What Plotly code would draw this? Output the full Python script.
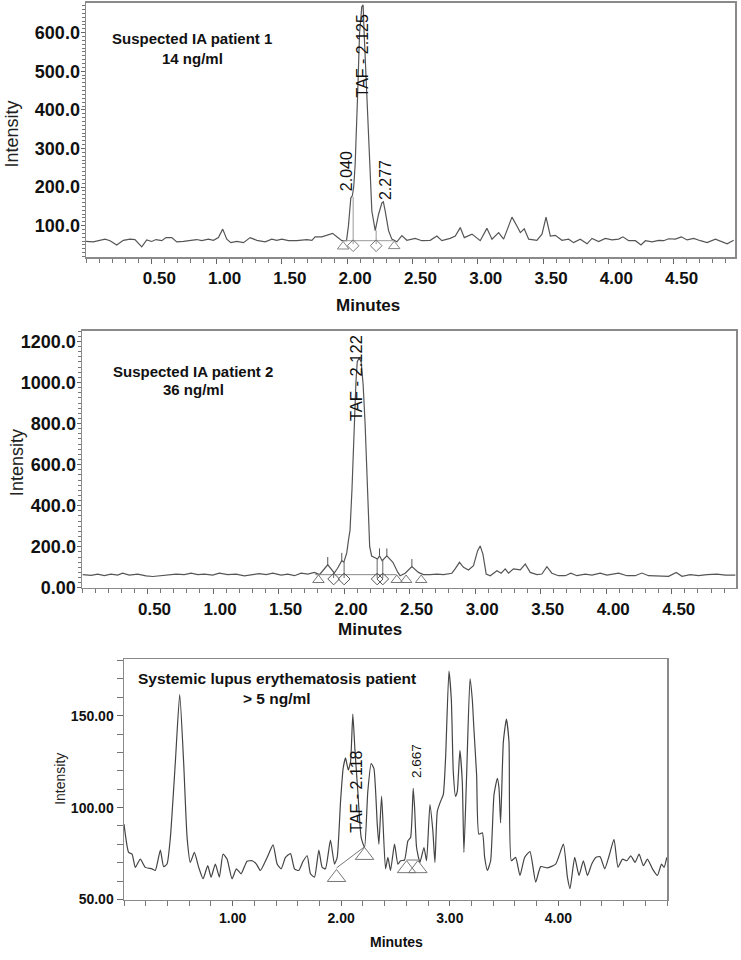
import plotly.graph_objects as go

W, H = 741, 960

# ---------------- data: panel 1 (Suspected IA patient 1) ----------------
p1_time = [0.0, 0.056, 0.146, 0.184, 0.235, 0.286, 0.337, 0.375, 0.427, 0.465,
           0.503, 0.536, 0.580, 0.613, 0.657, 0.695, 0.746, 0.797, 0.848, 0.887,
           0.937, 0.976, 1.014, 1.047, 1.078, 1.109, 1.155, 1.206, 1.257, 1.308,
           1.372, 1.423, 1.461, 1.500, 1.550, 1.614, 1.691, 1.730, 1.755, 1.806,
           1.849, 1.888, 1.921, 1.959, 1.995, 2.010, 2.028, 2.040, 2.050, 2.061,
           2.079, 2.095, 2.112, 2.122, 2.130, 2.151, 2.171, 2.189, 2.215, 2.240,
           2.266, 2.277, 2.291, 2.317, 2.342, 2.381, 2.419, 2.457, 2.521, 2.572,
           2.636, 2.687, 2.725, 2.789, 2.828, 2.866, 2.897, 2.956, 3.019, 3.070,
           3.109, 3.160, 3.198, 3.262, 3.300, 3.326, 3.356, 3.390, 3.453, 3.492,
           3.523, 3.556, 3.594, 3.645, 3.696, 3.734, 3.785, 3.837, 3.875, 3.926,
           3.977, 4.028, 4.079, 4.112, 4.156, 4.207, 4.250, 4.284, 4.335, 4.386,
           4.424, 4.462, 4.513, 4.559, 4.603, 4.654, 4.705, 4.756, 4.820, 4.871,
           4.910, 4.960]
p1_int = [59, 58, 65, 61, 50, 62, 65, 64, 45, 63,
          59, 64, 61, 69, 69, 58, 59, 61, 64, 61,
          65, 62, 69, 91, 65, 56, 59, 56, 69, 62,
          58, 65, 62, 65, 61, 61, 64, 62, 71, 71,
          76, 80, 71, 61, 61, 100, 172, 178, 200, 257,
          428, 599, 667, 672, 599, 428, 257, 138, 87, 129,
          159, 162, 138, 87, 65, 58, 74, 62, 67, 61,
          62, 73, 61, 67, 73, 95, 69, 78, 61, 93,
          65, 82, 65, 122, 99, 82, 92, 65, 62, 78,
          122, 73, 75, 62, 65, 56, 65, 53, 67, 59,
          67, 63, 65, 71, 61, 61, 50, 61, 58, 62,
          61, 66, 65, 71, 63, 67, 61, 56, 65, 59,
          53, 62]
p1_tri_time = [1.969, 2.360]
p1_tri_int = [46, 47]
p1_dia_time = [2.046, 2.222]
p1_dia_int = [48, 48]
p1_base_time = [1.969, 2.360]
p1_base_int = [61, 61]
p1_drop_time = [2.046, 2.222]
p1_drop_top = [175, 88]
p1_drop_bottom = [52, 52]

# ---------------- data: panel 2 (Suspected IA patient 2) ----------------
p2_time = [0.005, 0.069, 0.12, 0.17, 0.221, 0.272, 0.31, 0.361, 0.425, 0.489,
           0.54, 0.603, 0.654, 0.718, 0.781, 0.832, 0.883, 0.934, 0.997, 1.048,
           1.112, 1.176, 1.239, 1.29, 1.353, 1.405, 1.456, 1.519, 1.57, 1.621,
           1.672, 1.723, 1.773, 1.812, 1.845, 1.875, 1.905, 1.925, 1.95, 1.982,
           1.998, 2.02, 2.035, 2.045, 2.06, 2.075, 2.09, 2.10, 2.115, 2.13,
           2.145, 2.16, 2.172, 2.185, 2.195, 2.21, 2.235, 2.255, 2.27, 2.29,
           2.326, 2.372, 2.41, 2.427, 2.466, 2.517, 2.567, 2.605, 2.656, 2.708,
           2.758, 2.822, 2.847, 2.88, 2.911, 2.949, 2.987, 3.018, 3.038, 3.059,
           3.084, 3.115, 3.166, 3.198, 3.229, 3.254, 3.292, 3.344, 3.382, 3.42,
           3.471, 3.509, 3.547, 3.585, 3.636, 3.687, 3.73, 3.776, 3.84, 3.891,
           3.954, 4.005, 4.094, 4.158, 4.221, 4.272, 4.323, 4.387, 4.476, 4.534,
           4.578, 4.641, 4.705, 4.769, 4.845, 4.908, 4.985]
p2_int = [64, 61, 67, 59, 67, 62, 71, 62, 67, 58,
          55, 59, 62, 67, 64, 71, 64, 67, 62, 71,
          64, 67, 58, 62, 69, 64, 71, 62, 67, 59,
          71, 67, 75, 64, 88, 112, 88, 72, 95, 132,
          125, 170, 240, 280, 480, 760, 1000, 1100, 1120, 1100,
          990, 800, 560, 330, 200, 155, 145, 140, 156, 132,
          156, 124, 75, 59, 71, 103, 75, 64, 64, 67,
          64, 71, 92, 124, 100, 87, 108, 180, 204, 164,
          67, 59, 83, 71, 92, 71, 92, 87, 116, 75,
          64, 67, 103, 71, 59, 59, 71, 59, 67, 62,
          71, 62, 71, 59, 59, 72, 59, 58, 56, 75,
          56, 64, 59, 64, 67, 62, 62]
p2_tri_time = [1.804, 2.402, 2.473, 2.588]
p2_tri_int = [38, 38, 38, 38]
p2_dia_time = [1.920, 2.000, 2.252, 2.295]
p2_dia_int = [43, 43, 43, 43]
p2_base_time = [1.780, 2.400]
p2_base_int = [64, 64]
p2_drop_time = [1.920, 2.000, 2.252, 2.295]
p2_drop_top = [82, 125, 142, 136]
p2_drop_bottom = [48, 48, 48, 48]
p2_apex_time = [1.875, 1.982, 2.270, 2.326, 2.517]
p2_apex_low = [112, 132, 156, 156, 103]
p2_apex_high = [150, 170, 192, 192, 140]

# ---------------- data: panel 3 (SLE patient) ----------------
p3_time = [0.0, 0.043, 0.074, 0.104, 0.15, 0.196, 0.258, 0.288, 0.335, 0.365,
           0.396, 0.427, 0.473, 0.513, 0.549, 0.581, 0.611, 0.648, 0.688, 0.728,
           0.771, 0.802, 0.841, 0.878, 0.912, 0.949, 0.995, 1.035, 1.078, 1.133,
           1.18, 1.219, 1.256, 1.318, 1.373, 1.41, 1.447, 1.487, 1.533, 1.57,
           1.609, 1.649, 1.687, 1.717, 1.754, 1.794, 1.825, 1.855, 1.901, 1.938,
           1.963, 1.994, 2.018, 2.04, 2.065, 2.086, 2.107, 2.126, 2.153, 2.184,
           2.215, 2.245, 2.276, 2.301, 2.332, 2.347, 2.372, 2.408, 2.43, 2.454,
           2.491, 2.522, 2.547, 2.583, 2.614, 2.639, 2.663, 2.676, 2.694, 2.725,
           2.762, 2.786, 2.817, 2.844, 2.863, 2.885, 2.915, 2.94, 2.961, 2.992,
           3.014, 3.032, 3.053, 3.069, 3.093, 3.115, 3.13, 3.155, 3.186, 3.207,
           3.222, 3.247, 3.268, 3.3, 3.321, 3.346, 3.376, 3.407, 3.438, 3.453,
           3.468, 3.493, 3.521, 3.545, 3.567, 3.606, 3.646, 3.689, 3.738, 3.791,
           3.837, 3.899, 3.975, 4.046, 4.083, 4.107, 4.15, 4.19, 4.23, 4.267,
           4.307, 4.344, 4.384, 4.427, 4.467, 4.512, 4.549, 4.59, 4.63, 4.666,
           4.706, 4.743, 4.783, 4.82, 4.866, 4.912, 4.949, 4.973, 4.998]
p3_int = [91, 75.6, 74.7, 67.5, 72, 67.5, 66.7, 65.8, 76.9, 67.9,
          69.3, 83.7, 124.9, 161.6, 124.9, 83.7, 70.2, 75.6, 67.5, 61.3,
          68.4, 62.2, 69.3, 62.2, 74.7, 72, 61.3, 66.7, 64, 70.8,
          71.1, 69.3, 65.8, 72.9, 79.7, 69.3, 66.7, 72.9, 75, 66.7,
          65.8, 70.8, 73.8, 64, 62.2, 76.9, 67.5, 66.7, 82.3, 69.3,
          72.9, 103.4, 121.3, 127, 120.4, 124.9, 150.9, 132, 108.8, 83.7,
          78.3, 108.8, 124, 121.3, 90.9, 80.1, 106.2, 66.7, 72.9, 65.8,
          80.1, 69.3, 71.1, 71.5, 81.9, 83.7, 110.5, 99.8, 78.3, 70.2,
          78.3, 71.1, 101.6, 87.3, 70.2, 98, 103.4, 107, 126.7, 174.2,
          158.9, 119.5, 106.1, 108.8, 131.2, 114.1, 75.6, 117.7, 170, 158.9,
          142.8, 117.7, 85.5, 86.3, 72.9, 65.8, 71.1, 107, 115.9, 110.5,
          91.7, 135.7, 148.2, 135.7, 71.1, 72.9, 63.1, 72.9, 76.1, 59.5,
          67.9, 67.2, 69.3, 80.1, 62.2, 55.9, 72.9, 63.1, 71.1, 63.1,
          69.3, 72.9, 73.3, 66.7, 73.8, 82.8, 67.5, 72, 71.1, 73.8,
          70.2, 74.7, 68.4, 72, 66.7, 63.1, 69.3, 67.5, 72.9]
p3_tri_time = [1.957, 2.215, 2.602, 2.706]
p3_tri_int = [62, 74, 66.8, 66.8]
p3_base_time = [1.957, 2.215, None, 2.602, 2.706]
p3_base_int = [67.2, 78.7, None, 71.5, 71.5]

# ---------------- tick labels ----------------
x12_vals = [0.5, 1.0, 1.5, 2.0, 2.5, 3.0, 3.5, 4.0, 4.5]
x12_text = ["0.50", "1.00", "1.50", "2.00", "2.50", "3.00", "3.50", "4.00", "4.50"]
y1_vals = [100, 200, 300, 400, 500, 600]
y1_text = ["100.0", "200.0", "300.0", "400.0", "500.0", "600.0"]
y2_vals = [0, 200, 400, 600, 800, 1000, 1200]
y2_text = ["0.00", "200.0", "400.0", "600.0", "800.0", "1000.0", "1200.0"]
x3_vals = [1, 2, 3, 4]
x3_text = ["1.00", "2.00", "3.00", "4.00"]
y3_vals = [50, 100, 150]
y3_text = ["50.00", "100.00", "150.00"]


def segs(xs, lo, hi):
    X, Y = [], []
    for x, a, b in zip(xs, lo, hi):
        X += [x, x, None]
        Y += [a, b, None]
    return X, Y


FONT = "Liberation Sans, Arial, sans-serif"
fig = go.Figure()

# panel 1
fig.add_trace(go.Scatter(x=p1_time, y=p1_int, mode="lines", xaxis="x", yaxis="y",
                         line=dict(color="#555555", width=1.2)))
fig.add_trace(go.Scatter(x=p1_base_time, y=p1_base_int, mode="lines", xaxis="x", yaxis="y",
                         line=dict(color="#999999", width=1)))
dx, dy = segs(p1_drop_time, p1_drop_bottom, p1_drop_top)
fig.add_trace(go.Scatter(x=dx, y=dy, mode="lines", xaxis="x", yaxis="y",
                         line=dict(color="#999999", width=1)))
fig.add_trace(go.Scatter(x=p1_tri_time, y=p1_tri_int, mode="markers", xaxis="x", yaxis="y",
                         marker=dict(symbol="triangle-up-open", size=10, color="#888888",
                                     line=dict(width=1))))
fig.add_trace(go.Scatter(x=p1_dia_time, y=p1_dia_int, mode="markers", xaxis="x", yaxis="y",
                         marker=dict(symbol="diamond-open", size=9, color="#777777",
                                     line=dict(width=1))))

# panel 2
fig.add_trace(go.Scatter(x=p2_time, y=p2_int, mode="lines", xaxis="x2", yaxis="y2",
                         line=dict(color="#555555", width=1.2)))
fig.add_trace(go.Scatter(x=p2_base_time, y=p2_base_int, mode="lines", xaxis="x2", yaxis="y2",
                         line=dict(color="#888888", width=1)))
dx, dy = segs(p2_drop_time, p2_drop_bottom, p2_drop_top)
fig.add_trace(go.Scatter(x=dx, y=dy, mode="lines", xaxis="x2", yaxis="y2",
                         line=dict(color="#666666", width=1)))
ax, ay = segs(p2_apex_time, p2_apex_low, p2_apex_high)
fig.add_trace(go.Scatter(x=ax, y=ay, mode="lines", xaxis="x2", yaxis="y2",
                         line=dict(color="#555555", width=1)))
fig.add_trace(go.Scatter(x=p2_tri_time, y=p2_tri_int, mode="markers", xaxis="x2", yaxis="y2",
                         marker=dict(symbol="triangle-up-open", size=10, color="#777777",
                                     line=dict(width=1))))
fig.add_trace(go.Scatter(x=p2_dia_time, y=p2_dia_int, mode="markers", xaxis="x2", yaxis="y2",
                         marker=dict(symbol="diamond-open", size=9, color="#555555",
                                     line=dict(width=1))))

# panel 3
fig.add_trace(go.Scatter(x=p3_time, y=p3_int, mode="lines", xaxis="x3", yaxis="y3",
                         line=dict(color="#444444", width=1.2, shape="spline", smoothing=0.5)))
fig.add_trace(go.Scatter(x=p3_base_time, y=p3_base_int, mode="lines", xaxis="x3", yaxis="y3",
                         line=dict(color="#777777", width=1)))
fig.add_trace(go.Scatter(x=p3_tri_time, y=p3_tri_int, mode="markers", xaxis="x3", yaxis="y3",
                         marker=dict(symbol="triangle-up-open", size=16, color="#777777",
                                     line=dict(width=1))))


def xdom(a, b):
    return [a / W, b / W]


def ydom(top, bottom):
    return [1 - bottom / H, 1 - top / H]


def axis_common(fs, tlen, mlen, mdt):
    return dict(
        showline=True, mirror=True, linecolor="#8a8a8a", linewidth=1.5,
        showgrid=False, zeroline=False, ticks="outside", ticklen=tlen,
        tickcolor="#666666", tickwidth=1, tickmode="array",
        tickfont=dict(family=FONT, size=fs, color="#111111", weight="bold"),
        minor=dict(dtick=mdt, tick0=0, ticks="outside", ticklen=mlen,
                   tickcolor="#777777", tickwidth=1, showgrid=False),
        fixedrange=True,
    )


layout = dict(
    width=W, height=H, autosize=False, showlegend=False,
    margin=dict(l=0, r=0, t=0, b=0),
    paper_bgcolor="white", plot_bgcolor="white",
    xaxis=dict(domain=xdom(86, 735), range=[0, 4.97], anchor="y",
               tickvals=x12_vals, ticktext=x12_text, ticklabelshift=8,
               **axis_common(17, 5, 4, 0.1)),
    yaxis=dict(domain=ydom(3, 260), range=[18, 677], anchor="x",
               tickvals=y1_vals, ticktext=y1_text, ticklabelstandoff=-3,
               **axis_common(18, 4, 3, 10)),
    xaxis2=dict(domain=xdom(82, 736), range=[0, 4.99], anchor="y2",
                tickvals=x12_vals, ticktext=x12_text, ticklabelshift=7,
                **axis_common(17, 5, 4, 0.1)),
    yaxis2=dict(domain=ydom(334, 594), range=[0, 1253], anchor="x2",
                tickvals=y2_vals, ticktext=y2_text, ticklabelstandoff=-3,
                **axis_common(18, 4, 3, 25)),
    xaxis3=dict(domain=xdom(124, 667), range=[0, 5.0], anchor="y3",
                tickvals=x3_vals, ticktext=x3_text,
                **axis_common(14, 5, 5, 0.2)),
    yaxis3=dict(domain=ydom(666, 909), range=[50, 180.8], anchor="x3",
                tickvals=y3_vals, ticktext=y3_text,
                **axis_common(14, 6, 6, 10)),
)
fig.update_layout(**layout)


def note(text, px, py, size, bold=False, angle=0, color="#111111"):
    fig.add_annotation(
        text=text, x=px / W, y=1 - py / H, xref="paper", yref="paper",
        xanchor="center", yanchor="middle", showarrow=False, textangle=angle,
        font=dict(family=FONT, size=size, color=color,
                  weight="bold" if bold else "normal"))


# panel 1 texts
note("Suspected IA patient 1", 192, 39, 15, True)
note("14 ng/ml", 192, 59, 15, True)
note("Intensity", 12, 136, 18, False, -90, "#222222")
note("Minutes", 368, 309, 17, True)
note("2.040", 346, 173, 16, False, -90)
note("TAF - 2.125", 362, 57, 16, False, -90)
note("2.277", 385, 182, 16, False, -90)

# panel 2 texts
note("Suspected IA patient 2", 193, 375, 15, True)
note("36 ng/ml", 193, 394, 15, True)
note("Intensity", 17, 468, 18, False, -90, "#222222")
note("Minutes", 370, 636, 17, True)
note("TAF - 2.122", 356, 382, 16.5, False, -90)

# panel 3 texts
note("Systemic lupus erythematosis patient", 277, 686, 15.5, True)
note("> 5 ng/ml", 277, 706, 15.5, True)
note("Intensity", 60, 787, 14, False, -90, "#222222")
note("Minutes", 396, 952, 14, True)
note("TAF - 2.118", 357, 800, 16, False, -90)
note("2.667", 417, 769, 13.5, False, -90)

fig.write_html(
    "out.html",
    config={"displayModeBar": False, "staticPlot": True},
    post_script="document.body.style.margin='0';document.body.style.padding='0';"
                "document.body.style.overflow='hidden';",
)
